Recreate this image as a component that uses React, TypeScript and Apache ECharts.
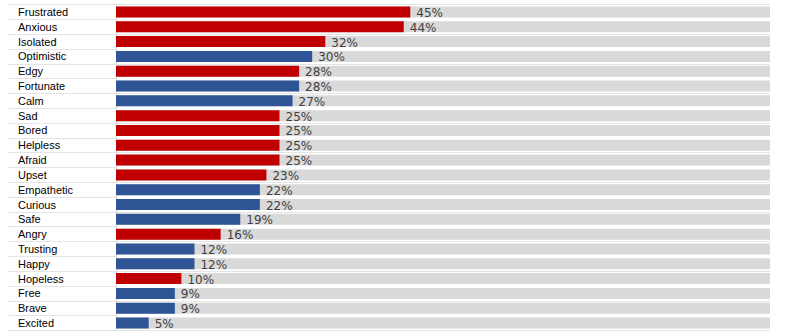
import React, { useEffect, useRef } from "react";
import * as echarts from "echarts";

const categories = [
  "Frustrated", "Anxious", "Isolated", "Optimistic", "Edgy", "Fortunate", "Calm",
  "Sad", "Bored", "Helpless", "Afraid", "Upset", "Empathetic", "Curious", "Safe",
  "Angry", "Trusting", "Happy", "Hopeless", "Free", "Brave", "Excited",
];
const values = [45, 44, 32, 30, 28, 28, 27, 25, 25, 25, 25, 23, 22, 22, 19, 16, 12, 12, 10, 9, 9, 5];
const tone = [
  "neg", "neg", "neg", "pos", "neg", "pos", "pos", "neg", "neg", "neg", "neg", "neg",
  "pos", "pos", "pos", "neg", "pos", "pos", "neg", "pos", "pos", "pos",
];
const toneColors: Record<string, string> = { neg: "#C00000", pos: "#2F5597" };

export default function App() {
  const ref = useRef<HTMLDivElement>(null);
  useEffect(() => {
    document.body.style.margin = "0";
    const chart = echarts.init(ref.current!, undefined, { renderer: "svg" });
    const top = 4.6;
    const height = 325.8;
    chart.setOption({
      animation: false,
      backgroundColor: "#ffffff",
      grid: [
        { left: 8, top, width: 108, height },
        { left: 116, top, width: 654, height },
      ],
      xAxis: [
        { gridIndex: 0, type: "value", show: false, min: 0, max: 1 },
        { gridIndex: 1, type: "value", min: 0, max: 100, show: false },
      ],
      yAxis: [
        {
          gridIndex: 0,
          type: "category",
          data: categories,
          inverse: true,
          axisLine: { show: false },
          axisTick: { show: false },
          axisLabel: {
            inside: true,
            margin: 10,
            color: "#000000",
            fontFamily: "Liberation Sans",
            fontSize: 11,
            padding: [2, 0, 0, 0],
          },
          splitLine: { show: true, lineStyle: { color: "#E4E4E4", width: 1 } },
        },
        {
          gridIndex: 1,
          type: "category",
          data: categories,
          inverse: true,
          axisLine: { show: true, lineStyle: { color: "#D9D9D9", width: 1 } },
          axisTick: { show: false },
          axisLabel: { show: false },
          splitLine: { show: true, lineStyle: { color: "#E4E4E4", width: 1 } },
        },
      ],
      series: [
        {
          type: "bar",
          xAxisIndex: 1,
          yAxisIndex: 1,
          barWidth: 11,
          showBackground: true,
          backgroundStyle: { color: "#D9D9D9" },
          data: values.map((v, i) => ({
            value: v,
            itemStyle: { color: toneColors[tone[i]] },
          })),
          label: {
            show: true,
            position: "right",
            distance: 6,
            offset: [0, 1],
            formatter: "{c}%",
            color: "#404040",
            fontFamily: "DejaVu Sans",
            fontSize: 12,
          },
        },
      ],
    });
    return () => chart.dispose();
  }, []);
  return <div ref={ref} style={{ width: 800, height: 336 }} />;
}
